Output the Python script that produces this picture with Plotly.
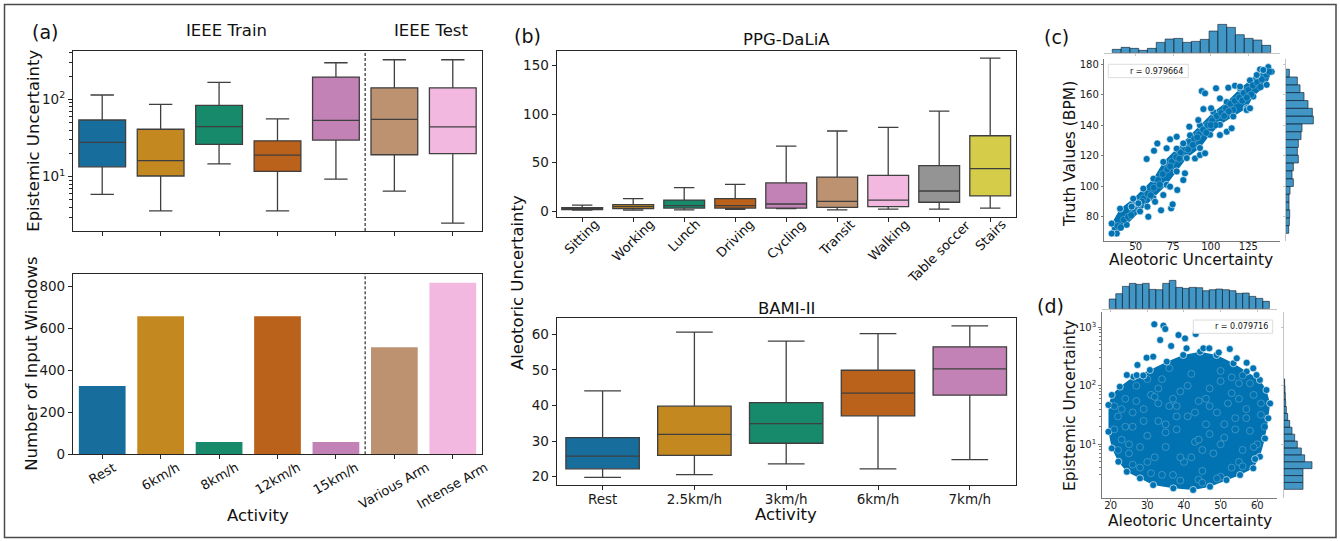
import plotly.graph_objects as go

W, H = 1340, 541

# ---------------- data ----------------
ieee_acts = ["Rest", "6km/h", "8km/h", "12km/h", "15km/h", "Various Arm", "Intense Arm"]
ieee_low = [5.9, 3.6, 14.6, 3.6, 9.3, 6.5, 2.5]
ieee_q1 = [13.4, 10.2, 26.2, 11.7, 29.7, 19.2, 19.8]
ieee_med = [27.8, 16.1, 44.3, 19.0, 53.5, 55.0, 43.9]
ieee_q3 = [54.0, 41.0, 83.6, 29.1, 194.0, 141.0, 141.0]
ieee_high = [113.7, 86.0, 166.0, 56.0, 297.0, 325.0, 325.0]
ieee_counts = [326, 659, 59, 659, 59, 511, 818]

dalia_acts = ["Sitting", "Working", "Lunch", "Driving", "Cycling", "Transit", "Walking", "Table soccer", "Stairs"]
dalia_low = [0.8, 1.0, 1.2, 1.7, 2.4, 1.2, 2.0, 2.0, 3.0]
dalia_q1 = [1.5, 2.4, 3.0, 3.0, 3.0, 3.8, 4.5, 9.0, 15.5]
dalia_med = [2.5, 4.5, 5.5, 5.5, 7.2, 10.0, 11.3, 20.6, 43.6]
dalia_q3 = [3.5, 6.5, 11.3, 12.7, 28.9, 35.0, 36.8, 46.7, 77.6]
dalia_high = [6.0, 12.7, 24.0, 27.5, 67.0, 82.5, 86.3, 103.0, 157.7]

bami_acts = ["Rest", "2.5km/h", "3km/h", "6km/h", "7km/h"]
bami_low = [19.8, 20.6, 23.6, 22.2, 24.8]
bami_q1 = [22.2, 26.0, 29.4, 37.1, 42.9]
bami_med = [25.8, 31.9, 34.9, 43.5, 50.3]
bami_q3 = [31.0, 39.8, 40.8, 49.9, 56.5]
bami_high = [44.1, 60.6, 58.1, 60.2, 62.4]

# (c) joint plot: aleatoric vs truth
c_band_x = [34.0, 39.6, 48.4, 55.1, 61.8, 68.4, 77.3, 86.2, 92.8, 101.7, 110.6, 119.5, 126.1, 132.8, 138.3,
            140.5, 137.2, 128.3, 123.9, 115.0, 106.1, 99.5, 92.8, 84.0, 77.3, 70.6, 61.8, 52.9, 44.0, 37.4, 34.0]
c_band_y = [75.5, 85.3, 91.8, 98.4, 104.9, 115.9, 124.6, 133.3, 139.9, 148.6, 155.1, 163.9, 169.3, 176.5, 178.0,
            175.0, 166.4, 158.8, 151.1, 145.7, 140.2, 133.7, 125.0, 118.4, 109.7, 100.9, 92.2, 83.5, 74.7, 69.0, 69.0]
c_in_x = [38, 42, 45, 48, 52, 55, 58, 62, 65, 68, 71, 74, 77, 80, 83, 86, 89, 92, 95, 98, 101, 104, 107, 110,
          113, 116, 119, 122, 125, 128, 131, 134, 137, 139, 40, 47, 54, 60, 66, 73, 79, 85, 91, 97, 103, 109,
          115, 121, 127, 133, 88, 100, 112, 124]
c_in_y = [74, 78, 80, 85, 88, 92, 95, 99, 104, 108, 111, 116, 119, 122, 125, 129, 131, 134, 137, 140, 143, 146,
          148, 151, 154, 156, 158, 161, 163, 166, 168, 170, 173, 175, 73, 81, 90, 94, 101, 113, 118, 124, 132,
          135, 140, 146, 150, 156, 160, 165, 127, 140, 149, 158]
c_out_x = [94.0, 96.2, 103.5, 95.1, 100.2, 85.7, 91.7, 77.3, 72.9, 64.4, 62.2, 57.3, 66.9, 73.6, 74.6, 58.4,
           57.8, 77.7, 82.8, 89.5, 92.8, 96.2, 106.1, 110.6, 113.9, 123.9, 126.1, 81.7, 72.9, 68.4, 62.9, 51.8,
           47.3, 111.7, 116.1, 119.5, 106.1, 81.7, 70.6, 130.6, 135.0]
c_out_y = [162.3, 160.8, 164.1, 150.5, 151.0, 139.0, 143.3, 132.4, 130.7, 128.0, 123.2, 117.8, 84.2, 85.5, 88.1,
           80.0, 86.6, 97.5, 108.4, 118.2, 120.4, 121.5, 133.5, 135.7, 137.9, 149.9, 151.0, 104.0, 99.7, 94.2,
           89.8, 88.8, 86.6, 164.5, 165.8, 165.2, 157.5, 128.0, 124.8, 172.8, 176.1]
c_topbin_edges = [34.4, 40.3, 46.1, 52.0, 57.8, 63.7, 69.6, 75.4, 81.3, 87.1, 93.0, 98.9, 104.7, 110.6, 116.4,
                  122.3, 128.2, 134.0, 139.9]
c_topbin_counts = [10, 16, 13, 7, 13, 31, 41, 43, 31, 34, 40, 65, 85, 76, 54, 43, 38, 22]
c_rightbin_edges = [69.1, 74.2, 79.3, 84.5, 89.6, 94.7, 99.8, 104.9, 110.1, 115.2, 120.3, 125.4, 130.5, 135.7,
                    140.8, 145.9, 151.0, 156.1, 161.3, 166.4, 171.5, 176.6]
c_rightbin_counts = [9, 11, 12, 10, 10, 13, 23, 19, 23, 38, 35, 38, 46, 49, 83, 80, 67, 55, 43, 35, 11]
c_r_label = "r = 0.979664"

# (d) joint plot: aleatoric vs epistemic
d_blob_x = [19.4, 20.3, 22.5, 26.2, 30.7, 35.3, 39.8, 44.4, 48.9, 53.5, 57.1, 60.7, 62.5, 63.5, 63.0, 62.1,
            60.7, 58.9, 55.3, 51.6, 47.1, 42.5, 37.1, 31.6, 28.0, 24.4, 22.1, 20.3, 19.4]
d_blob_y = [47, 69.7, 96.6, 143, 186, 259, 336, 383, 336, 242, 175, 126, 84.8, 50, 27.8, 12.6,
            6.15, 3.88, 2.99, 2.45, 1.89, 1.66, 1.77, 2.01, 2.62, 3.40, 5.05, 8.53, 16.4]
d_in_x = [22, 23, 24, 25, 26, 27, 28, 29, 30, 31, 32, 33, 34, 35, 36, 37, 38, 39, 40, 41, 42, 43, 44, 45, 46,
          47, 48, 49, 50, 51, 52, 53, 54, 55, 56, 57, 58, 59, 60, 61, 24, 30, 36, 44, 50, 56, 28, 33, 47, 53,
          39, 21, 62,
          21, 23, 25, 27, 29, 31, 33, 35, 37, 39, 41, 43, 45, 47, 49, 51, 53, 55, 57, 59, 61, 22, 26, 30, 34,
          38, 42, 46, 50, 54, 58, 26, 32, 38, 44, 50, 56, 35, 45, 55]
d_in_y = [30, 12, 60, 7, 20, 100, 4, 40, 14, 70, 6, 25, 130, 9, 45, 3, 18, 80, 5, 30, 160, 11, 55, 3.5, 22,
          90, 7, 35, 180, 13, 50, 4, 28, 110, 8, 40, 17, 70, 10, 32, 20, 5, 200, 2.5, 2.8, 150, 9, 50, 15, 75,
          2.4, 45, 20,
          18, 40, 10, 55, 25, 3.2, 90, 16, 60, 6, 100, 35, 8, 45, 2.6, 22, 140, 5, 28, 9, 50, 8, 4.5, 130, 3.0,
          30, 6, 60, 10, 18, 110, 35, 65, 45, 12, 120, 4.2, 22, 2.2, 60]
d_out_x = [31.9, 34.4, 34.9, 33.5, 38.5, 43.2, 36.5, 40.3, 40.7, 45.3, 46.9, 52.5, 29.8, 31.6, 27.3, 27.1,
           57.1, 58.9, 59.8, 54.4, 49.5, 59.4, 24.4, 28.9]
d_out_y = [1125, 1067, 935, 606, 738, 767, 479, 647, 437, 437, 437, 426, 302, 315, 227, 152,
           248, 199, 153, 295, 372, 5.6, 153, 150]
d_topbin_edges = [19.6, 21.4, 23.2, 25.1, 26.9, 28.7, 30.5, 32.3, 34.2, 36.0, 37.8, 39.6, 41.4, 43.3, 45.1,
                  46.9, 48.7, 50.5, 52.4, 54.2, 56.0, 57.8, 59.6, 61.5, 63.3]
d_topbin_counts = [29, 45, 67, 76, 73, 76, 58, 57, 76, 85, 64, 61, 64, 63, 54, 57, 59, 57, 54, 46, 47, 37, 31, 22]
d_rightbin_log_edges = [0.23, 0.348, 0.466, 0.584, 0.702, 0.82, 0.938, 1.056, 1.174, 1.292, 1.41, 1.528, 1.646,
                        1.764, 1.882, 2.0, 2.118]
d_rightbin_counts = [57, 57, 57, 84, 62, 52, 40, 32, 24, 17, 11, 7, 5, 4, 3, 2]
d_r_label = "r = 0.079716"

palette = ["#176D9C", "#C38820", "#168A6A", "#BA611B", "#C282B5", "#BD9270", "#F2B8E0", "#949494", "#D5CD4A"]
PT = "#0173B2"
HISTFILL = "rgba(1,115,178,0.75)"
HISTEDGE = "rgba(25,40,55,0.85)"
FONT = "DejaVu Sans"


def fx(p):
    return p / W


def fy(p):
    return 1 - p / H


fig = go.Figure()


def add_boxes(xa, ya, low, q1, med, q3, high):
    for i in range(len(med)):
        fig.add_trace(go.Box(
            x=[i], q1=[q1[i]], median=[med[i]], q3=[q3[i]], lowerfence=[low[i]], upperfence=[high[i]],
            orientation="v", width=0.8, whiskerwidth=0.5, fillcolor=palette[i],
            line=dict(color="#3f3f3f", width=1.3), boxpoints=False,
            xaxis=xa, yaxis=ya, showlegend=False, hoverinfo="skip"))


def add_hist(xa, ya, edges, counts, horizontal=False):
    widths = [edges[i + 1] - edges[i] for i in range(len(counts))]
    if horizontal:
        fig.add_trace(go.Bar(y=edges[:-1], x=counts, width=widths, offset=0, orientation="h",
                             marker=dict(color=HISTFILL, line=dict(color=HISTEDGE, width=0.8)),
                             xaxis=xa, yaxis=ya, showlegend=False, hoverinfo="skip"))
    else:
        fig.add_trace(go.Bar(x=edges[:-1], y=counts, width=widths, offset=0,
                             marker=dict(color=HISTFILL, line=dict(color=HISTEDGE, width=0.8)),
                             xaxis=xa, yaxis=ya, showlegend=False, hoverinfo="skip"))


# (a) top: epistemic boxes
add_boxes("x", "y", ieee_low, ieee_q1, ieee_med, ieee_q3, ieee_high)
# (a) bottom: counts
fig.add_trace(go.Bar(x=list(range(len(ieee_counts))), y=ieee_counts, width=0.8,
                     marker=dict(color=palette[:7], line=dict(width=0)),
                     xaxis="x2", yaxis="y2", showlegend=False, hoverinfo="skip"))
# (b) top and bottom
add_boxes("x3", "y3", dalia_low, dalia_q1, dalia_med, dalia_q3, dalia_high)
add_boxes("x4", "y4", bami_low, bami_q1, bami_med, bami_q3, bami_high)

mk = dict(size=7, color=PT, line=dict(color="white", width=0.6))
mk_in = dict(size=7, color=PT, line=dict(color="rgba(255,255,255,0.45)", width=0.5))
# (c)
fig.add_trace(go.Scatter(x=c_band_x, y=c_band_y, fill="toself", fillcolor=PT, mode="lines+markers",
                         line=dict(width=0, color=PT), marker=mk, xaxis="x5", yaxis="y5",
                         showlegend=False, hoverinfo="skip"))
fig.add_trace(go.Scatter(x=c_in_x, y=c_in_y, mode="markers", marker=mk_in, xaxis="x5", yaxis="y5",
                         showlegend=False, hoverinfo="skip"))
fig.add_trace(go.Scatter(x=c_out_x, y=c_out_y, mode="markers", marker=mk, xaxis="x5", yaxis="y5",
                         showlegend=False, hoverinfo="skip"))
add_hist("x6", "y6", c_topbin_edges, c_topbin_counts)
add_hist("x7", "y7", c_rightbin_edges, c_rightbin_counts, horizontal=True)
# (d)
fig.add_trace(go.Scatter(x=d_blob_x, y=d_blob_y, fill="toself", fillcolor=PT, mode="lines+markers",
                         line=dict(width=0, color=PT), marker=mk, xaxis="x8", yaxis="y8",
                         showlegend=False, hoverinfo="skip"))
fig.add_trace(go.Scatter(x=d_in_x, y=d_in_y, mode="markers", marker=mk_in, xaxis="x8", yaxis="y8",
                         showlegend=False, hoverinfo="skip"))
fig.add_trace(go.Scatter(x=d_out_x, y=d_out_y, mode="markers", marker=mk, xaxis="x8", yaxis="y8",
                         showlegend=False, hoverinfo="skip"))
add_hist("x9", "y9", d_topbin_edges, d_topbin_counts)
add_hist("x10", "y10", d_rightbin_log_edges, d_rightbin_counts, horizontal=True)

# ---------------- axes ----------------
frame = dict(showline=True, linecolor="#262626", linewidth=1.2, mirror=True, ticks="outside", ticklen=4,
             tickwidth=1, tickcolor="#262626", showgrid=False, zeroline=False, automargin=False,
             tickfont=dict(size=13.5, color="#1a1a1a", family=FONT))
joint = dict(showline=True, linecolor="#7a7a7a", linewidth=1, mirror=False, ticks="outside", ticklen=2.5,
             tickwidth=1, tickcolor="#7a7a7a", showgrid=False, zeroline=False, automargin=False,
             tickfont=dict(size=10, color="#1a1a1a", family=FONT))
marg = dict(showline=True, linecolor="#c4c4c4", linewidth=1, ticks="outside", ticklen=2, tickcolor="#c4c4c4",
            showticklabels=False, showgrid=False, zeroline=False, automargin=False)
hidden = dict(visible=False, automargin=False, showgrid=False, zeroline=False)

xa_dom = [fx(73), fx(482)]
xb_dom = [fx(556.7), fx(1015.7)]
xc_dom = [fx(1104.3), fx(1280)]
yc_dom = [fy(240.7), fy(59.3)]
xd_dom = [fx(1101.7), fx(1276.7)]
yd_dom = [fy(498.3), fy(311.7)]
c_xr = [29.1, 146.1]
c_yr = [64.3, 183.1]
d_xr = [17.55, 65.3]
d_yr = [0.077, 3.267]

log_minor = [3, 4, 5, 6, 7, 8, 9, 20, 30, 40, 50, 60, 70, 80, 90, 200, 300, 400, 500, 600, 700, 800, 900,
             2000]

layout = dict(
    width=W, height=H, margin=dict(l=0, r=0, t=0, b=0, pad=0), template="none",
    paper_bgcolor="white", plot_bgcolor="white", boxmode="overlay", barmode="overlay",
    font=dict(family=FONT, color="#111"), showlegend=False,
    xaxis=dict(domain=xa_dom, anchor="y", range=[-0.5, 6.5], tickvals=list(range(7)), showticklabels=False, **frame),
    yaxis=dict(domain=[fy(231), fy(51)], anchor="x", type="log", range=[0.297, 2.625], tickvals=[10, 100],
               ticktext=["10<sup>1</sup>", "10<sup>2</sup>"],
               minor=dict(tickvals=log_minor, ticks="outside", ticklen=2.5, tickcolor="#262626"), **frame),
    xaxis2=dict(domain=xa_dom, anchor="y2", range=[-0.5, 6.5], tickvals=list(range(7)), showticklabels=False,
                **frame),
    yaxis2=dict(domain=[fy(454.3), fy(274)], anchor="x2", range=[0, 860], tickvals=[0, 200, 400, 600, 800],
                **frame),
    xaxis3=dict(domain=xb_dom, anchor="y3", range=[-0.5, 8.5], tickvals=list(range(9)), showticklabels=False,
                **frame),
    yaxis3=dict(domain=[fy(217.3), fy(51)], anchor="x3", range=[-6.5, 165], tickvals=[0, 50, 100, 150], **frame),
    xaxis4=dict(domain=xb_dom, anchor="y4", range=[-0.5, 4.5], tickvals=list(range(5)), ticktext=bami_acts,
                ticklabelstandoff=-2, **frame),
    yaxis4=dict(domain=[fy(485), fy(318.3)], anchor="x4", range=[17.67, 64.5], tickvals=[20, 30, 40, 50, 60],
                **frame),
    xaxis5=dict(domain=xc_dom, anchor="y5", range=c_xr, tickvals=[50, 75, 100, 125], ticklabelstandoff=-6,
                **joint),
    yaxis5=dict(domain=yc_dom, anchor="x5", range=c_yr, tickvals=[80, 100, 120, 140, 160, 180], **joint),
    xaxis6=dict(domain=xc_dom, anchor="y6", range=c_xr, tickvals=[50, 75, 100, 125], **marg),
    yaxis6=dict(domain=[fy(52.7), fy(19.4)], anchor="x6", range=[0, 100], **hidden),
    xaxis7=dict(domain=[fx(1285.7), fx(1319)], anchor="y7", range=[0, 100], **hidden),
    yaxis7=dict(domain=yc_dom, anchor="x7", range=c_yr, tickvals=[80, 100, 120, 140, 160, 180], **marg),
    xaxis8=dict(domain=xd_dom, anchor="y8", range=d_xr, tickvals=[20, 30, 40, 50, 60], ticklabelstandoff=-5,
                **joint),
    yaxis8=dict(domain=yd_dom, anchor="x8", type="log", range=d_yr, tickvals=[10, 100, 1000],
                ticktext=["10<sup>1</sup>", "10<sup>2</sup>", "10<sup>3</sup>"],
                minor=dict(tickvals=log_minor, ticks="outside", ticklen=1.8, tickcolor="#7a7a7a"), **joint),
    xaxis9=dict(domain=xd_dom, anchor="y9", range=d_xr, tickvals=[20, 30, 40, 50, 60], **marg),
    yaxis9=dict(domain=[fy(308.7), fy(275.4)], anchor="x9", range=[0, 100], **hidden),
    xaxis10=dict(domain=[fx(1284), fx(1317.3)], anchor="y10", range=[0, 100], **hidden),
    yaxis10=dict(domain=yd_dom, anchor="x10", range=d_yr, tickvals=[1, 2, 3], **marg),
)
fig.update_layout(**layout)

# ---------------- shapes ----------------
shapes = [
    dict(type="rect", xref="paper", yref="paper", x0=fx(4.5), x1=fx(1336), y0=fy(537.5), y1=fy(4.5),
         line=dict(color="#4a4a4a", width=1.5), fillcolor="rgba(0,0,0,0)", layer="above"),
]
for xa in ["x", "x2"]:
    shapes.append(dict(type="line", xref=xa, yref=xa.replace("x", "y") + " domain", x0=4.5, x1=4.5, y0=0, y1=1,
                       line=dict(color="black", width=1, dash="3px,2px"), layer="above"))
# legend boxes
shapes.append(dict(type="rect", xref="paper", yref="paper", x0=fx(1108.3), x1=fx(1188.3), y0=fy(77.7),
                   y1=fy(64.3), line=dict(color="#dcdcdc", width=1), fillcolor="white", layer="above"))
shapes.append(dict(type="rect", xref="paper", yref="paper", x0=fx(1193.3), x1=fx(1272.7), y0=fy(333.3),
                   y1=fy(320), line=dict(color="#dcdcdc", width=1), fillcolor="white", layer="above"))
fig.update_layout(shapes=shapes)

# ---------------- annotations ----------------
ann = []


def txt(text, x, y, size, angle=0, xanchor="center", yanchor="middle"):
    ann.append(dict(text=text, x=fx(x), y=fy(y), xref="paper", yref="paper", showarrow=False,
                    font=dict(size=size, family=FONT, color="#111"), textangle=angle,
                    xanchor=xanchor, yanchor=yanchor))


txt("(a)", 45, 32.3, 19)
txt("(b)", 527.5, 36.5, 19)
txt("(c)", 1056, 37, 19)
txt("(d)", 1050.3, 305.8, 19)
txt("IEEE Train", 226, 31, 16.5)
txt("IEEE Test", 431, 31, 16.5)
txt("PPG-DaLiA", 786, 39, 16.5)
txt("BAMI-II", 786, 308.3, 16.5)
txt("Epistemic Uncertainty", 33.8, 141, 16.5, angle=-90)
txt("Number of Input Windows", 30.8, 364, 16.5, angle=-90)
txt("Activity", 258, 515, 16.5)
txt("Activity", 786, 514, 16.5)
txt("Aleotoric Uncertainty", 517, 283, 16.5, angle=-90)
txt("Aleotoric Uncertainty", 1190.7, 260, 15.5)
txt("Truth Values (BPM)", 1070, 154, 15.5, angle=-90)
txt("Aleotoric Uncertainty", 1189.5, 521, 15.5)
txt("Epistemic Uncertainty", 1070, 406, 15.5, angle=-90)
txt(c_r_label, 1184.5, 71, 8, xanchor="right")
txt(d_r_label, 1270, 326.7, 8, xanchor="right")

for i, lab in enumerate(ieee_acts):
    ann.append(dict(text=lab, x=i, xref="x2", y=fy(457), yref="paper", showarrow=False, textangle=-30,
                    xanchor="center", yanchor="top", font=dict(size=13, family=FONT, color="#111")))
for i, lab in enumerate(dalia_acts):
    ann.append(dict(text=lab, x=i, xref="x3", y=fy(214), yref="paper", showarrow=False, textangle=-45,
                    xanchor="center", yanchor="top", font=dict(size=13, family=FONT, color="#111")))

fig.update_layout(annotations=ann)

fig.write_html("out.html", config={"displayModeBar": False},
               post_script="document.body.style.margin='0px';document.body.style.overflow='hidden';")
